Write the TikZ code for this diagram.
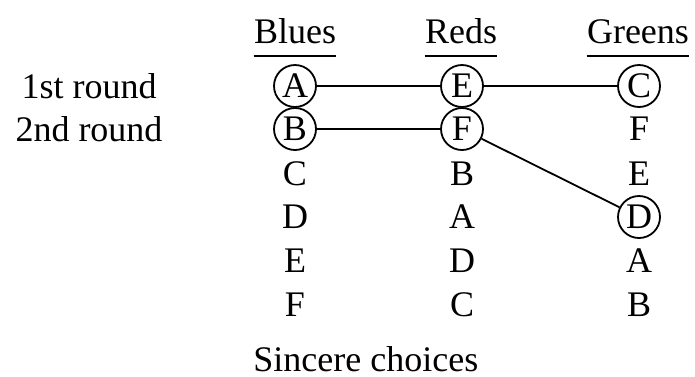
\documentclass[tikz,border=0pt]{standalone}
\usepackage{fontspec}
\setmainfont{Liberation Serif}
\begin{document}
\begin{tikzpicture}[x=0.5pt,y=-0.5pt,
  every node/.style={font=\fontsize{18}{20}\selectfont},
  letter/.style={inner sep=0pt,text height=11.9pt,text depth=0pt,minimum size=21pt},
  circ/.style={letter,draw,circle,line width=0.9pt},
  hdr/.style={inner xsep=0pt,anchor=base},
  ul/.style={line width=1pt},
  link/.style={line width=0.9pt}]
\useasboundingbox (0,0) rectangle (695,376);
% headers
\node[hdr] (hb) at (295,43) {Blues};
\node[hdr] (hr) at (461,43) {Reds};
\node[hdr] (hg) at (638,43) {Greens};
\draw[ul] ([yshift=-6.5pt]hb.base west) -- ([yshift=-6.5pt]hb.base east);
\draw[ul] ([yshift=-6.5pt]hr.base west) -- ([yshift=-6.5pt]hr.base east);
\draw[ul] ([yshift=-6.5pt]hg.base west) -- ([yshift=-6.5pt]hg.base east);
% row labels
\node (r1) at (89,86) {1st round};
\node (r2) at (89,129) {2nd round};
% Blues
\node[circ] (bA) at (295,86) {A};
\node[circ] (bB) at (295,129) {B};
\node[letter] (bC) at (295,174) {C};
\node[letter] (bD) at (295,217) {D};
\node[letter] (bE) at (295,261) {E};
\node[letter] (bF) at (295,305) {F};
% Reds
\node[circ] (rE) at (462,86) {E};
\node[circ] (rF) at (462,129) {F};
\node[letter] (rB) at (462,174) {B};
\node[letter] (rA) at (462,217) {A};
\node[letter] (rD) at (462,261) {D};
\node[letter] (rC) at (462,305) {C};
% Greens
\node[circ] (gC) at (639,86) {C};
\node[letter] (gF) at (639,129) {F};
\node[letter] (gE) at (639,174) {E};
\node[circ] (gD) at (639,217) {D};
\node[letter] (gA) at (639,261) {A};
\node[letter] (gB) at (639,305) {B};
% links
\draw[link] (bA) -- (rE);
\draw[link] (rE) -- (gC);
\draw[link] (bB) -- (rF);
\draw[link] (rF) -- (gD);
% caption
\node[anchor=base west,inner xsep=0pt] (cap) at (253,371) {Sincere choices};
\end{tikzpicture}
\end{document}
